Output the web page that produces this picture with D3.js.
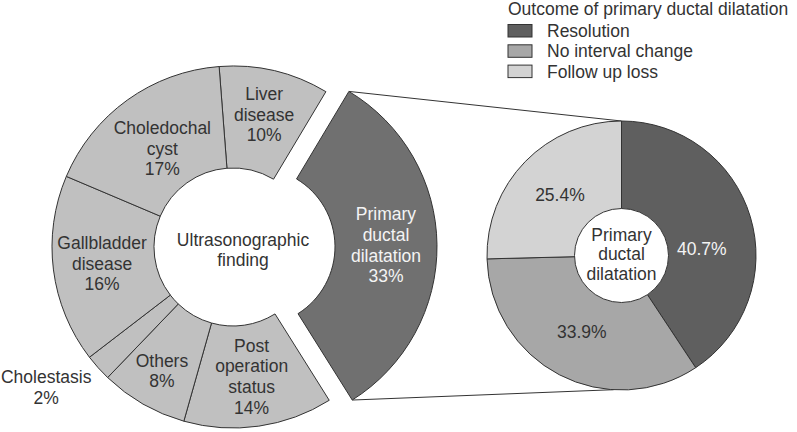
<!DOCTYPE html>
<html><head><meta charset="utf-8">
<script src="https://cdn.jsdelivr.net/npm/d3@7"></script>
<style>
html,body{margin:0;padding:0;background:#fff;}
svg{display:block;font-family:Arial,"Liberation Sans",sans-serif;}
</style></head>
<body>
<svg id="chart" width="797" height="432"></svg>
<script>
// ---- data ----
const findingCategories = ["Liver disease","Primary ductal dilatation","Post operation status","Others","Cholestasis","Gallbladder disease","Choledochal cyst"];
const findingLabelLines = [["Liver","disease"],["Primary","ductal","dilatation"],["Post","operation","status"],["Others"],["Cholestasis"],["Gallbladder","disease"],["Choledochal","cyst"]];
const findingPercentLabels = ["10%","33%","14%","8%","2%","16%","17%"];
const findingValues = [9.8, 32.5, 13.3, 7.8, 2.4, 16.8, 17.4];

const outcomeCategories = ["Resolution","No interval change","Follow up loss"];
const outcomeValues = [40.7, 33.9, 25.4];
const outcomeLabels = ["40.7%","33.9%","25.4%"];

const legendTitle = "Outcome of primary ductal dilatation";
const leftCenterText = ["Ultrasonographic","finding"];
const rightCenterText = ["Primary","ductal","dilatation"];

// ---- layout ----
const svg = d3.select("#chart");
const FONT = 17.5, LH = 20.6;
const textCol = "#333", strokeCol = "#333";
const L = {cx:233, cy:247, r0:79, r1:181, explode:23};
const R = {cx:621.5, cy:255.5, r0:47, r1:134.5};
const deg = Math.PI/180;

const leftFill = d => d.index === 1 ? "#707070" : "#c0c0c0";
const rightColor = d3.scaleOrdinal().domain(outcomeCategories).range(["#5f5f5f","#a7a7a7","#d3d3d3"]);

const pieL = d3.pie().sort(null).startAngle(-4.4*deg).endAngle(-4.4*deg + 2*Math.PI);
const arcsL = pieL(findingValues);
const arcL = d3.arc().innerRadius(L.r0).outerRadius(L.r1);

function multiline(g, lines, x, y, fill, anchor){
  const t = g.append("text").attr("x", x).attr("y", y)
    .attr("text-anchor", anchor||"middle").attr("fill", fill)
    .style("font-size", FONT+"px");
  const n = lines.length;
  lines.forEach((s,i)=>{
    t.append("tspan").attr("x", x)
      .attr("y", y + (i-(n-1)/2)*LH)
      .attr("dominant-baseline","central").text(s);
  });
  return t;
}

// connector lines (exploded slice to right pie)
const ex = arcsL[1];
const mid = (ex.startAngle+ex.endAngle)/2;
const offX = L.explode*Math.sin(mid), offY = -L.explode*Math.cos(mid);
const cornerTop = [L.cx+offX+L.r1*Math.sin(ex.startAngle), L.cy+offY-L.r1*Math.cos(ex.startAngle)];
const cornerBot = [L.cx+offX+L.r1*Math.sin(ex.endAngle), L.cy+offY-L.r1*Math.cos(ex.endAngle)];
svg.append("line").attr("x1",cornerTop[0]).attr("y1",cornerTop[1]).attr("x2",R.cx).attr("y2",R.cy-R.r1)
  .attr("stroke",strokeCol).attr("stroke-width",1);
svg.append("line").attr("x1",cornerBot[0]).attr("y1",cornerBot[1]).attr("x2",R.cx-8).attr("y2",R.cy+R.r1-0.3)
  .attr("stroke",strokeCol).attr("stroke-width",1);

// left donut
const gL = svg.append("g").attr("transform",`translate(${L.cx},${L.cy})`);
gL.selectAll("path").data(arcsL).join("path")
  .attr("d", arcL)
  .attr("transform", d => {
    if (d.index !== 1) return null;
    return `translate(${offX},${offY})`;
  })
  .attr("fill", leftFill).attr("stroke", strokeCol).attr("stroke-width", 1);

// left labels
const labelR = [136,130,131,143,232,132,121];
arcsL.forEach((d,i)=>{
  const a = (d.startAngle+d.endAngle)/2;
  let x = labelR[i]*Math.sin(a), y = -labelR[i]*Math.cos(a);
  if (i===1){ x += offX; y += offY; }
  if (i===4){ x -= 14; y -= 14; }
  const lines = findingLabelLines[i].concat([findingPercentLabels[i]]);
  multiline(gL, lines, x, y, i===1 ? "#f4f4f4" : textCol);
});
multiline(gL, leftCenterText, 10, 3, textCol);

// right pie
const pieR = d3.pie().sort(null);
const arcsR = pieR(outcomeValues);
const arcR = d3.arc().innerRadius(0).outerRadius(R.r1);
const gR = svg.append("g").attr("transform",`translate(${R.cx},${R.cy})`);
gR.selectAll("path").data(arcsR).join("path")
  .attr("d", arcR)
  .attr("fill", (d,i)=>rightColor(outcomeCategories[i]))
  .attr("stroke", strokeCol).attr("stroke-width", 1);
gR.append("circle").attr("r", R.r0).attr("fill","#fff").attr("stroke",strokeCol).attr("stroke-width",1);
const rLab = d3.arc().innerRadius(86).outerRadius(86);
const rNudge = [[-2,18],[0,0],[0,0]];
arcsR.forEach((d,i)=>{
  const c = rLab.centroid(d);
  gR.append("text").attr("x", c[0]+rNudge[i][0]).attr("y", c[1]+rNudge[i][1])
    .attr("text-anchor","middle").attr("dominant-baseline","central")
    .attr("fill", i===0 ? "#f4f4f4" : textCol)
    .style("font-size", FONT+"px").text(outcomeLabels[i]);
});
multiline(gR, rightCenterText, 0, -1.5, textCol).selectAll("tspan").attr("y", function(d,i){ return -1.5 + (i-1)*19.5; });

// legend
const gLeg = svg.append("g").attr("transform","translate(508,0)");
gLeg.append("text").attr("x",0).attr("y",15).attr("fill",textCol)
  .style("font-size", FONT+"px").text(legendTitle);
outcomeCategories.forEach((c,i)=>{
  gLeg.append("rect").attr("x",0).attr("y",24.5+i*20.3).attr("width",24).attr("height",12.5)
    .attr("fill",rightColor(c)).attr("stroke",strokeCol).attr("stroke-width",1);
  gLeg.append("text").attr("x",39).attr("y",37+i*20.3).attr("fill",textCol)
    .style("font-size", FONT+"px").text(c);
});
</script>
</body></html>
